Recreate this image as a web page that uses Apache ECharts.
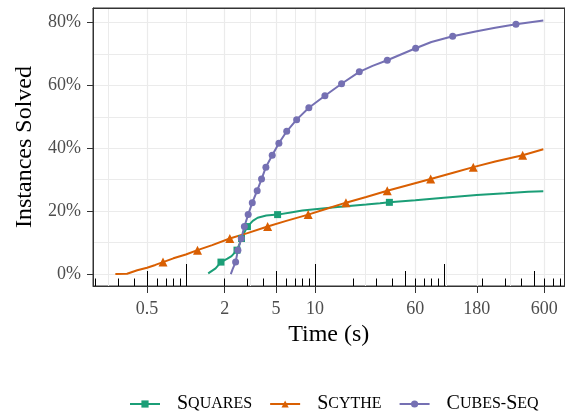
<!DOCTYPE html>
<html>
<head>
<meta charset="utf-8">
<script src="https://cdn.jsdelivr.net/npm/echarts@6.0.0/dist/echarts.min.js"></script>
<style>
  html, body { margin: 0; padding: 0; background: #fff; }
  #chart { width: 566px; height: 413px; }
</style>
</head>
<body>
<div id="chart"></div>
<script>
// x axis breaks (seconds, log scale)
const xBreaks = [0.5, 2, 5, 10, 60, 180, 600];
const xBreakLabels = ['0.5', '2', '5', '10', '60', '180', '600'];
const xMinorBreaks = [0.25, 1, 3.16, 7.07, 24.5, 103.9, 328.6];
// log ticks along the bottom of the panel
const logTicksShort = [0.2, 0.3, 0.4, 0.6, 0.7, 0.8, 0.9, 2, 3, 4, 6, 7, 8, 9,
  20, 30, 40, 60, 70, 80, 90, 200, 300, 400, 600, 700, 800];
const logTicksMid = [0.5, 5, 50, 500];
const logTicksLong = [1, 10, 100];
const yBreaks = [0, 20, 40, 60, 80];
const yMinorBreaks = [10, 30, 50, 70];

// Squares
const squaresTime = [1.49, 1.7, 2.1, 2.26, 2.6, 2.85, 3.3, 3.6, 4.2, 6.5, 8, 10, 15, 25, 32, 60, 100, 180, 300, 450, 590];
const squaresPct = [0.2, 1.8, 4.9, 5.7, 9.5, 13.4, 16.9, 17.9, 18.6, 19.6, 20.2, 20.6, 21.3, 22.1, 22.5, 23.5, 24.3, 25.1, 25.7, 26.2, 26.3];
const squaresMarkTime = [1.87, 2.49, 2.70, 3.0, 5.14, 37.8];
const squaresMarkPct = [3.8, 7.6, 11.3, 15.1, 18.9, 22.8];

// Scythe
const scytheTime = [0.284, 0.35, 0.42, 0.5, 0.58, 0.8, 1.0, 1.6, 3.0, 6.0, 12, 25, 55, 120, 250, 590];
const scythePct = [0.0, 0.1, 1.2, 2.0, 2.9, 5.0, 6.2, 9.2, 13.0, 16.9, 20.6, 24.5, 28.5, 32.3, 35.8, 39.7];
const scytheMarkTime = [0.665, 1.23, 2.19, 4.3, 8.87, 17.4, 36.4, 79, 169, 408];
const scytheMarkPct = [3.8, 7.6, 11.3, 15.1, 18.9, 22.7, 26.5, 30.2, 34.0, 37.8];

// Cubes-Seq
const cubesTime = [2.23, 2.3, 28, 80, 180, 250, 590];
const cubesPct = [0, 1.5, 66.2, 73.8, 77.2, 78.3, 80.6];
const cubesMarkTime = [2.43, 2.53, 2.69, 2.84, 3.04, 3.27, 3.57, 3.86, 4.17, 4.67, 5.26, 6.05,
  7.22, 8.98, 11.96, 16.1, 22.1, 36.4, 60.4, 117, 362];
const cubesMarkPct = [3.8, 7.6, 11.3, 15.1, 18.9, 22.7, 26.5, 30.2, 34.0, 37.8, 41.6, 45.4,
  49.1, 52.9, 56.7, 60.5, 64.3, 68.0, 71.8, 75.6, 79.4];

const FONT = '"Liberation Serif", "DejaVu Serif", serif';
const lg = v => Math.log10(v);

function buildData(times, pcts, markTimes, markPcts) {
  const pts = times.map((t, i) => ({ value: [lg(t), pcts[i]], symbol: 'none' }));
  markTimes.forEach((t, i) => pts.push({ value: [lg(t), markPcts[i]] }));
  pts.sort((a, b) => a.value[0] - b.value[0]);
  return pts;
}

// small caps for legend labels
function smallCaps(name) {
  let out = '';
  let first = true;
  for (const ch of name) {
    const big = ch === ch.toUpperCase() && ch !== '-';
    const style = first ? 'f' : (big ? 'b' : 's');
    out += '{' + style + '|' + ch.toUpperCase() + '}';
    first = false;
  }
  return out;
}

const XMIN = -0.72, XMAX = 2.935;
const YMIN = -3.8, YMAX = 84.6;

function borderLine() {
  return { show: true, onZero: false, lineStyle: { color: '#333', width: 1 } };
}

function tickAxis(values, len) {
  return {
    type: 'value', min: XMIN, max: XMAX, position: 'bottom',
    axisLine: { show: false, onZero: false },
    axisLabel: { show: false },
    splitLine: { show: false },
    axisTick: { show: true, inside: true, length: len, customValues: values.map(lg),
      lineStyle: { color: '#000', width: 1 } }
  };
}

function borderAxis(pos, isX) {
  return {
    type: 'value', position: pos,
    min: isX ? XMIN : YMIN, max: isX ? XMAX : YMAX,
    axisLine: borderLine(),
    axisLabel: { show: false }, axisTick: { show: false }, splitLine: { show: false }
  };
}

const chart = echarts.init(document.getElementById('chart'), null, { renderer: 'canvas' });

const mkSeries = (name, color, symbol, size, data) => ({
  name: name, type: 'line', data: data,
  symbol: symbol, symbolSize: size, showSymbol: true, showAllSymbol: true,
  smooth: false,
  lineStyle: { color: color, width: 2 },
  itemStyle: { color: color },
  emphasis: { disabled: true }
});

chart.setOption({
  animation: false,
  grid: { left: 93, right: 1.5, top: 8, bottom: 127, show: true,
    borderColor: '#333', borderWidth: 1, backgroundColor: 'rgba(0,0,0,0)' },
  xAxis: [
    {
      type: 'value', min: XMIN, max: XMAX, position: 'bottom',
      name: 'Time (s)', nameLocation: 'middle', nameGap: 34,
      nameTextStyle: { fontFamily: FONT, fontSize: 24, color: '#000' },
      axisLine: borderLine(),
      axisTick: { show: true, length: 7, customValues: xBreaks.map(lg),
        lineStyle: { color: '#333', width: 1 } },
      axisLabel: { show: true, customValues: xBreaks.map(lg), margin: 14,
        fontFamily: FONT, fontSize: 18, color: '#4d4d4d',
        formatter: v => {
          const i = xBreaks.findIndex(b => Math.abs(lg(b) - v) < 1e-6);
          return i >= 0 ? xBreakLabels[i] : '';
        } },
      splitLine: { show: true, lineStyle: { color: '#ebebeb', width: 1.2 } }
    },
    {
      type: 'value', min: XMIN, max: XMAX, position: 'bottom',
      axisLine: { show: false, onZero: false },
      axisLabel: { show: false },
      axisTick: { show: false, customValues: xMinorBreaks.map(lg) },
      splitLine: { show: true, lineStyle: { color: '#ebebeb', width: 1 } }
    },
    tickAxis(logTicksShort, 7.5),
    tickAxis(logTicksMid, 15),
    tickAxis(logTicksLong, 22),
    borderAxis('top', true)
  ],
  yAxis: [
    {
      type: 'value', min: YMIN, max: YMAX, position: 'left',
      name: 'Instances Solved', nameLocation: 'middle', nameGap: 54,
      nameTextStyle: { fontFamily: FONT, fontSize: 24, color: '#000' },
      axisLine: borderLine(),
      axisTick: { show: true, length: 6, customValues: yBreaks,
        lineStyle: { color: '#333', width: 1 } },
      axisLabel: { show: true, customValues: yBreaks, margin: 12,
        fontFamily: FONT, fontSize: 18, color: '#4d4d4d',
        formatter: v => v + '%' },
      splitLine: { show: true, lineStyle: { color: '#ebebeb', width: 1.2 } }
    },
    {
      type: 'value', min: YMIN, max: YMAX, position: 'left',
      axisLine: { show: false, onZero: false },
      axisLabel: { show: false },
      axisTick: { show: false, customValues: yMinorBreaks },
      splitLine: { show: true, lineStyle: { color: '#ebebeb', width: 1 } }
    },
    borderAxis('right', false)
  ],
  legend: {
    data: ['Squares', 'Scythe', 'Cubes-Seq'],
    left: 129, top: 394, padding: 0,
    itemWidth: 30, itemHeight: 9, itemGap: 17,
    formatter: smallCaps,
    textStyle: {
      color: '#000',
      rich: {
        f: { fontFamily: FONT, fontSize: 20, padding: [0, 0, 0, 12] },
        b: { fontFamily: FONT, fontSize: 20 },
        s: { fontFamily: FONT, fontSize: 16 }
      }
    }
  },
  series: [
    mkSeries('Squares', '#1B9E77', 'rect', 7,
      buildData(squaresTime, squaresPct, squaresMarkTime, squaresMarkPct)),
    mkSeries('Scythe', '#D95F02', 'triangle', 9,
      buildData(scytheTime, scythePct, scytheMarkTime, scytheMarkPct)),
    mkSeries('Cubes-Seq', '#7570B3', 'circle', 7,
      buildData(cubesTime, cubesPct, cubesMarkTime, cubesMarkPct))
  ]
});
</script>
</body>
</html>
